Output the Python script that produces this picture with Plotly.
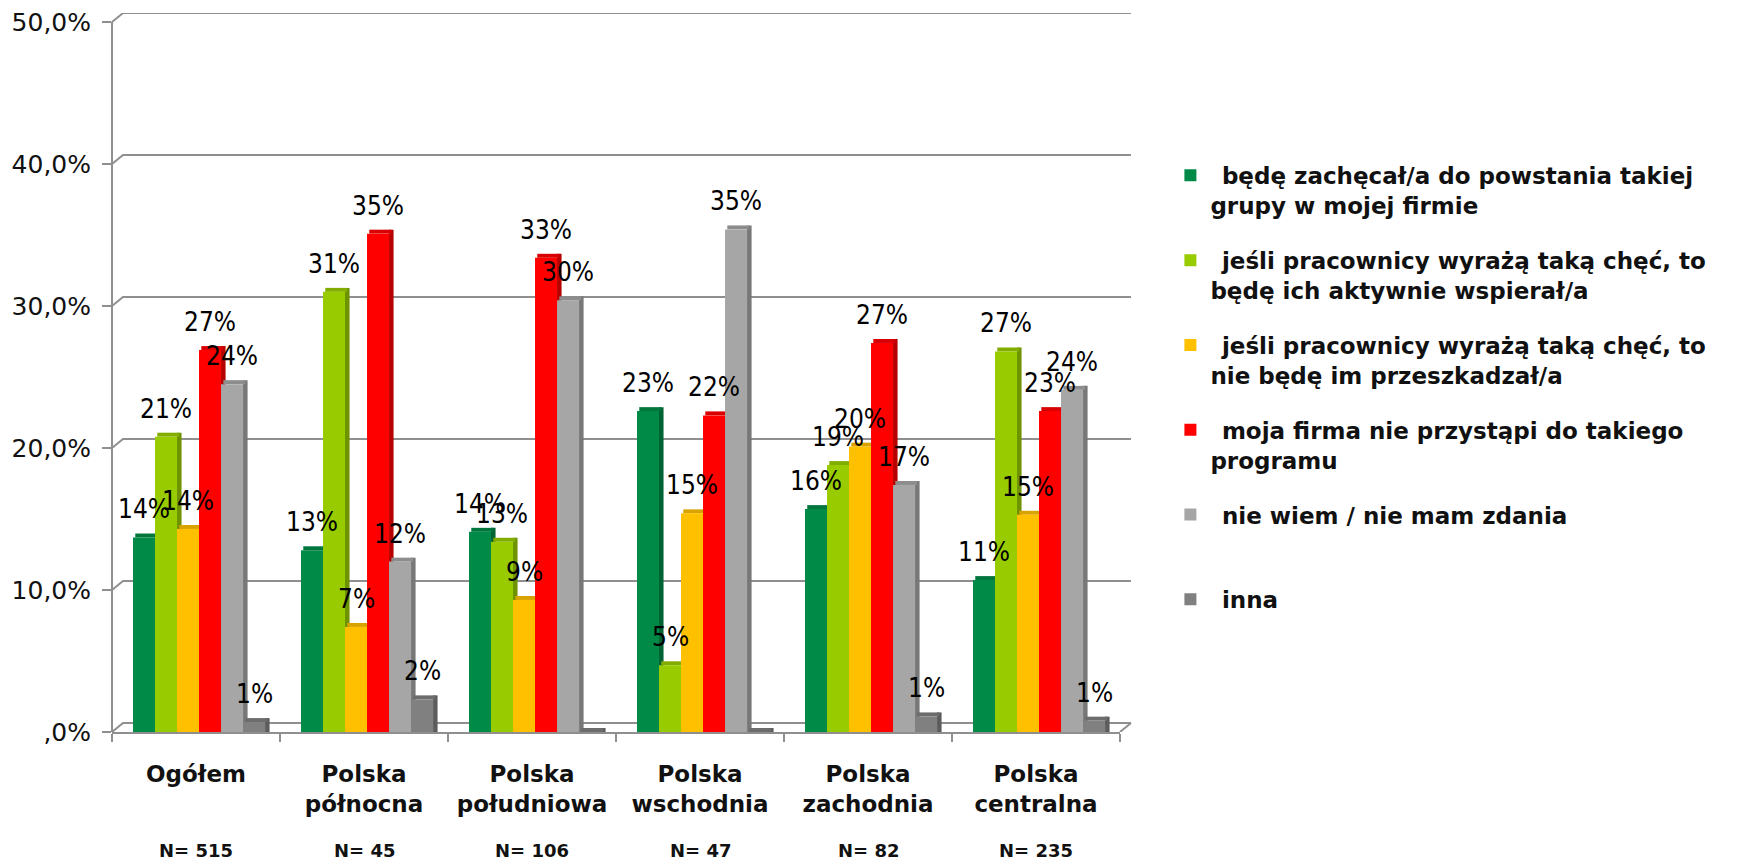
import plotly.graph_objects as go

categories = ["Ogółem", "Polska<br>północna", "Polska<br>południowa",
              "Polska<br>wschodnia", "Polska<br>zachodnia", "Polska<br>centralna"]
sample_sizes = ["N= 515", "N= 45", "N= 106", "N= 47", "N= 82", "N= 235"]

series_names = [
    "\u2002będę zachęcał/a do powstania takiej<br>grupy w mojej firmie",
    "\u2002jeśli pracownicy wyrażą taką chęć, to<br>będę ich aktywnie wspierał/a",
    "\u2002jeśli pracownicy wyrażą taką chęć, to<br>nie będę im przeszkadzał/a",
    "\u2002moja firma nie przystąpi do takiego<br>programu",
    "\u2002nie wiem / nie mam zdania<br>\u2002",
    "\u2002inna",
]
series_colors = ["#008A47", "#99CC00", "#FFC000", "#FF0000", "#A6A6A6", "#808080"]

zachecal = [13.7, 12.8, 14.1, 22.6, 15.7, 10.7]
wspieral = [20.8, 31.0, 13.4, 4.7, 18.8, 26.8]
nie_przeszkadzal = [14.3, 7.4, 9.3, 15.4, 20.1, 15.3]
nie_przystapi = [26.9, 35.1, 33.4, 22.3, 27.4, 22.6]
nie_wiem = [24.5, 12.0, 30.4, 35.4, 17.4, 24.1]
inna = [0.7, 2.3, 0.0, 0.0, 1.1, 0.8]
series_values = [zachecal, wspieral, nie_przeszkadzal, nie_przystapi, nie_wiem, inna]

y_tickvals = [0, 10, 20, 30, 40, 50]
y_ticktext = [",0%", "10,0%", "20,0%", "30,0%", "40,0%", "50,0%"]

# styling / pseudo-3D geometry
GROUP_START = -0.375   # left edge of first bar, relative to category centre (axis units)
BAR_W = 0.131          # front-face width (axis units)
SIDE_W = 0.027         # visible side-face width (axis units)
DEPTH_V = 0.28         # top-face depth (value units)
DEPTH_X, DEPTH_Y = 11, 9
PLOT_W = 1008
Y_TOP = 50.64
GRID_COLOR = "#8F8F8F"
LABEL_FONT = dict(family="Liberation Sans Narrow, DejaVu Sans Condensed, Liberation Sans", size=26, color="#000000")


def shade(hex_color, f):
    h = hex_color.lstrip("#")
    r, g, b = (int(h[k:k + 2], 16) for k in (0, 2, 4))
    return "#%02X%02X%02X" % (int(r * f), int(g * f), int(b * f))


fig = go.Figure()
# side and top faces first (behind the neighbouring front faces)
for j, (name, color, vals) in enumerate(zip(series_names, series_colors, series_values)):
    left = GROUP_START + j * BAR_W
    fig.add_trace(go.Bar(
        x=categories, y=[v + DEPTH_V for v in vals], offset=left + BAR_W, width=SIDE_W,
        marker=dict(color=shade(color, 0.72), line=dict(width=0)),
        legendgroup=name, showlegend=False, hoverinfo="skip",
    ))
    fig.add_trace(go.Bar(
        x=categories, y=[DEPTH_V] * len(vals), base=vals, offset=left + SIDE_W / 2, width=BAR_W,
        marker=dict(color=shade(color, 0.85), line=dict(width=0)),
        legendgroup=name, showlegend=False, hoverinfo="skip",
    ))
# front faces
for j, (name, color, vals) in enumerate(zip(series_names, series_colors, series_values)):
    left = GROUP_START + j * BAR_W
    fig.add_trace(go.Bar(
        x=categories, y=vals, name=name, legendgroup=name, offset=left, width=BAR_W,
        marker=dict(color=color, line=dict(width=0)),
    ))

# data labels
for j, vals in enumerate(series_values):
    for i, v in enumerate(vals):
        if v <= 0:
            continue
        fig.add_annotation(
            x=i + GROUP_START + (j + 0.5) * BAR_W, y=v, xref="x", yref="y",
            text=f"{round(v)}%", showarrow=False, yanchor="bottom", yshift=11,
            font=LABEL_FONT,
        )

# sample sizes under categories
for i, n in enumerate(sample_sizes):
    fig.add_annotation(
        x=i, y=0, xref="x", yref="y", yanchor="middle", yshift=-118,
        text=f"<b>{n}</b>", showarrow=False,
        font=dict(family="DejaVu Sans", size=18, color="#111111"),
    )

# pseudo-3D back wall gridlines (drawn through the y axis scale)
for v in y_tickvals:
    fig.add_shape(
        type="path", xref="paper", yref="y",
        xsizemode="pixel", ysizemode="pixel", xanchor=0, yanchor=v,
        path=f"M0,0 L{DEPTH_X},{DEPTH_Y} L{PLOT_W + DEPTH_X},{DEPTH_Y}",
        line=dict(color=GRID_COLOR, width=2), layer="below",
    )
fig.add_shape(
    type="path", xref="paper", yref="y",
    xsizemode="pixel", ysizemode="pixel", xanchor=1, yanchor=0,
    path=f"M0,0 L{DEPTH_X},{DEPTH_Y}",
    line=dict(color=GRID_COLOR, width=2), layer="below",
)
# front value axis line
fig.add_shape(
    type="line", xref="paper", yref="y", x0=0, x1=0, y0=0, y1=y_tickvals[-1],
    line=dict(color=GRID_COLOR, width=2), layer="below",
)

fig.update_layout(
    width=1748, height=859,
    margin=dict(l=104, r=636, t=5, b=135, autoexpand=False),
    paper_bgcolor="white", plot_bgcolor="white",
    barmode="overlay",
    showlegend=True,
    legend=dict(
        x=1.05, y=0.804, xanchor="left", yanchor="top",
        font=dict(family="DejaVu Sans", size=23, color="#111111", weight="bold"),
        valign="top", tracegroupgap=22, itemsizing="constant",
        bgcolor="rgba(0,0,0,0)", traceorder="grouped",
    ),
    xaxis=dict(
        showline=True, linecolor=GRID_COLOR, linewidth=2, automargin=False,
        ticks="outside", tickson="boundaries", ticklen=8, tickcolor=GRID_COLOR, tickwidth=2,
        tickfont=dict(family="DejaVu Sans", size=23, color="#111111", weight="bold"),
        ticklabelstandoff=20, showgrid=False,
    ),
    yaxis=dict(
        range=[0, Y_TOP], tickvals=y_tickvals, ticktext=y_ticktext,
        showline=False, automargin=False, ticklabeloverflow="allow",
        ticks="outside", ticklen=9, tickcolor=GRID_COLOR, tickwidth=2,
        tickfont=dict(family="DejaVu Sans", size=25, color="#111111"),
        ticklabelstandoff=6, showgrid=False, zeroline=False,
    ),
)

fig.write_html("out.html")
